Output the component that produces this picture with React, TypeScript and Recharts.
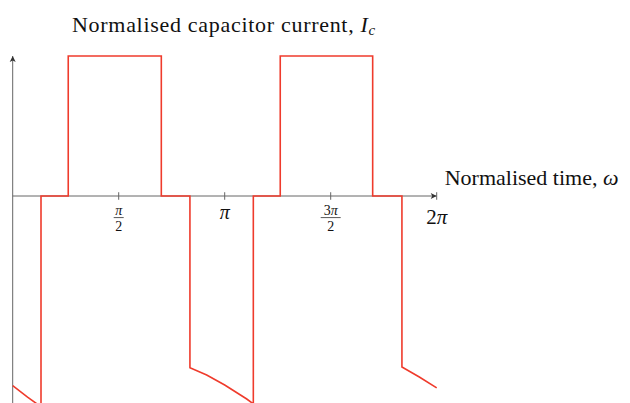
import React from 'react'
import { LineChart, Line, XAxis, YAxis, ReferenceLine } from 'recharts'

// time is in multiples of pi, current is normalised to the charging pulse
const timePi = [0, 0.07, 0.1335, 0.1335, 0.262, 0.262, 0.701, 0.701, 0.836, 0.836, 0.915, 1.0, 1.104, 1.135, 1.135, 1.262, 1.262, 1.698, 1.698, 1.836, 1.836, 1.918, 2.0]
const current = [-1.354, -1.436, -1.506, 0, 0, 1, 1, 0, 0, -1.226, -1.279, -1.35, -1.45, -1.485, 0, 0, 1, 1, 0, 0, -1.221, -1.293, -1.371]
const tickValues = [0.5, 1, 1.5, 2]
const tickLabels = [['π', '2'], ['π'], ['3π', '2'], ['2π']]

const title = 'Normalised capacitor current, '
const xLabel = 'Normalised time, '

const data = timePi.map((t, i) => ({ t, i: current[i] }))

const AXIS = '#666'
const RED = '#ef3b2c'
const FONT = '"Liberation Serif", serif'

function XAxisShape(props: any) {
  const { x1, y1, x2 } = props
  const end = Math.max(x1, x2)
  const start = Math.min(x1, x2)
  return (
    <g>
      <line x1={start} y1={y1} x2={end} y2={y1} stroke={AXIS} strokeWidth={1} />
      <path d={`M${end},${y1} L${end - 6},${y1 - 3} L${end - 4.5},${y1} L${end - 6},${y1 + 3} Z`} fill="#333" />
      <text x={end + 8} y={y1 - 11} fontFamily={FONT} fontSize={22} fill="#111">
        {xLabel}
        <tspan fontStyle="italic">ω</tspan>
      </text>
    </g>
  )
}

function YAxisShape(props: any) {
  const { x1, y1, y2 } = props
  const top = Math.min(y1, y2)
  const bottom = Math.max(y1, y2)
  return (
    <g>
      <line x1={x1} y1={bottom} x2={x1} y2={top} stroke={AXIS} strokeWidth={1} />
      <path d={`M${x1},${top} L${x1 - 3},${top + 6} L${x1},${top + 4.5} L${x1 + 3},${top + 6} Z`} fill="#333" />
    </g>
  )
}

function TickShape(props: any) {
  const { x1, y1, y2, label } = props
  const top = Math.min(y1, y2)
  const bottom = Math.max(y1, y2)
  const [num, den] = label
  return (
    <g>
      <line x1={x1} y1={top} x2={x1} y2={bottom} stroke={AXIS} strokeWidth={1} />
      {den ? (
        <g fontFamily={FONT} fill="#111" textAnchor="middle">
          <text x={x1} y={bottom + 15.5} fontSize={14}>
            {num.length > 1 ? <>{num[0]}<tspan fontStyle="italic">{num.slice(1)}</tspan></> : <tspan fontStyle="italic">{num}</tspan>}
          </text>
          <line x1={x1 - num.length * 5} x2={x1 + num.length * 5} y1={bottom + 17.8} y2={bottom + 17.8} stroke="#111" strokeWidth={0.7} />
          <text x={x1} y={bottom + 31.5} fontSize={14}>{den}</text>
        </g>
      ) : (
        <text x={x1} y={bottom + (num.length > 1 ? 24 : 18.8)} fontFamily={FONT} fontSize={num.length > 1 ? 21 : 20} fill="#111" textAnchor="middle">
          {num.length > 1 ? <>{num[0]}<tspan fontStyle="italic">{num.slice(1)}</tspan></> : <tspan fontStyle="italic">{num}</tspan>}
        </text>
      )}
    </g>
  )
}

export default function App() {
  return (
    <div style={{ position: 'fixed', left: 0, top: 0, width: 630, height: 403, overflow: 'hidden', background: '#fff' }}>
      <LineChart width={630} height={420} data={data} margin={{ top: 56, right: 193.3, bottom: 0, left: 12.7 }}>
        <XAxis type="number" dataKey="t" domain={[0, 2]} hide />
        <YAxis type="number" domain={[-1.6, 1]} hide />
        <ReferenceLine x={0} shape={<YAxisShape />} />
        <ReferenceLine y={0} shape={<XAxisShape />} />
        {tickValues.map((v, k) => (
          <ReferenceLine
            key={v}
            segment={[{ x: v, y: -0.027 }, { x: v, y: 0.027 }]}
            shape={(p: any) => <TickShape {...p} label={tickLabels[k]} />}
          />
        ))}
        <Line type="linear" dataKey="i" stroke={RED} strokeWidth={1.6} dot={false} isAnimationActive={false} />
        <text x={224} y={31.5} fontFamily={FONT} fontSize={22} letterSpacing={0.7} fill="#111" textAnchor="middle">
          {title}
          <tspan fontStyle="italic">I</tspan>
          <tspan fontStyle="italic" fontSize={15} dy={3}>c</tspan>
        </text>
      </LineChart>
    </div>
  )
}
